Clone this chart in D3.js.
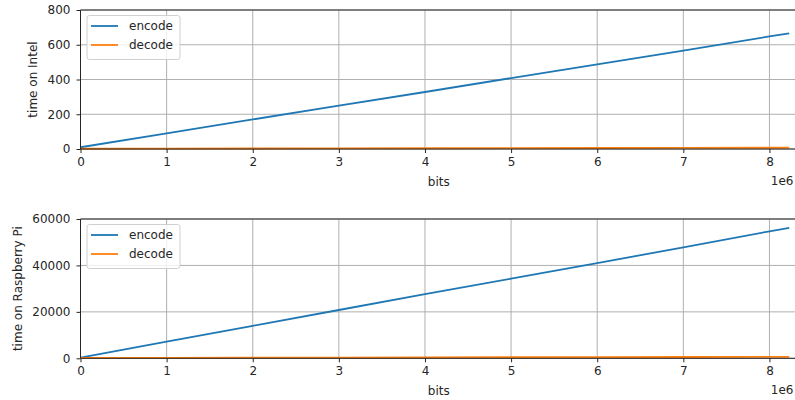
<!DOCTYPE html>
<html>
<head>
<meta charset="utf-8">
<script src="https://cdn.jsdelivr.net/npm/d3@7"></script>
<style>
  body { margin: 0; background: #fff; }
  svg { display: block; font-family: "DejaVu Sans", sans-serif; }
</style>
</head>
<body>
<div id="container"></div>
<script>
// data
var bits = [0, 1e6, 2e6, 3e6, 4e6, 5e6, 6e6, 7e6, 8e6, 8.23e6];
var intelEncode = [10, 90, 170, 250, 328, 408, 487, 566, 648, 666];
var intelDecode = [1.5, 2.2, 3, 3.6, 4.3, 5, 5.8, 6.5, 7.2, 7.4];
var piEncode = [300, 7200, 14000, 20800, 27600, 34300, 41000, 47800, 54700, 56200];
var piDecode = [150, 210, 270, 330, 390, 450, 510, 570, 630, 650];
var xTicks = [0, 1, 2, 3, 4, 5, 6, 7, 8];
var intelTicks = [0, 200, 400, 600, 800];
var piTicks = [0, 20000, 40000, 60000];

var width = 795, height = 400;
var left = 80.5, right = 797;
var ink = "#262626";

var svg = d3.select("#container").append("svg")
    .attr("width", width)
    .attr("height", height);

var xScale = d3.scaleLinear().domain([0, 8.32e6]).range([left, right]);

function panel(top, bottom, yMax, yTicks, encode, decode, ylabel, ylabelX, legendTop) {
    var yScale = d3.scaleLinear().domain([0, yMax]).range([bottom, top]);
    var g = svg.append("g");

    // grid
    g.selectAll(".vgrid").data(xTicks).enter().append("line")
        .attr("x1", d => xScale(d * 1e6)).attr("x2", d => xScale(d * 1e6))
        .attr("y1", top).attr("y2", bottom)
        .style("stroke", "#b0b0b0").style("stroke-width", 1);
    g.selectAll(".hgrid").data(yTicks).enter().append("line")
        .attr("x1", left).attr("x2", right)
        .attr("y1", d => yScale(d)).attr("y2", d => yScale(d))
        .style("stroke", "#b0b0b0").style("stroke-width", 1);

    var line = d3.line()
        .x((d, i) => xScale(bits[i]))
        .y(d => yScale(d));

    g.append("path").datum(encode)
        .attr("d", line)
        .style("fill", "none").style("stroke", "#1f77b4").style("stroke-width", 1.8);
    g.append("path").datum(decode)
        .attr("d", line)
        .style("fill", "none").style("stroke", "#ff7f0e").style("stroke-width", 1.8);

    // spines
    g.append("line").attr("x1", left).attr("x2", right).attr("y1", top).attr("y2", top)
        .style("stroke", ink).style("stroke-width", 1);
    g.append("line").attr("x1", left).attr("x2", right).attr("y1", bottom).attr("y2", bottom)
        .style("stroke", ink).style("stroke-width", 1);
    g.append("line").attr("x1", left).attr("x2", left).attr("y1", top).attr("y2", bottom)
        .style("stroke", ink).style("stroke-width", 1);

    // axes
    var xaxis = d3.axisBottom(xScale)
        .tickValues(xTicks.map(d => d * 1e6))
        .tickFormat(d => d / 1e6)
        .tickSize(4).tickPadding(4);
    var xg = g.append("g").attr("transform", "translate(0," + bottom + ")").call(xaxis);
    xg.select(".domain").remove();

    var yaxis = d3.axisLeft(yScale)
        .tickValues(yTicks)
        .tickFormat(d3.format("d"))
        .tickSize(4).tickPadding(6);
    var yg = g.append("g").attr("transform", "translate(" + left + ",0)").call(yaxis);
    yg.select(".domain").remove();

    [xg, yg].forEach(function (a) {
        a.selectAll("text").style("font-size", "12px").style("fill", ink)
            .style("font-family", "DejaVu Sans, sans-serif");
        a.selectAll("line").style("stroke", ink).style("stroke-width", 1);
    });

    g.append("text")
        .attr("x", (left + right) / 2)
        .attr("y", bottom + 37)
        .style("text-anchor", "middle").style("font-size", "12px").style("fill", ink)
        .text("bits");
    g.append("text")
        .attr("x", 793.5)
        .attr("y", bottom + 36)
        .style("text-anchor", "end").style("font-size", "12px").style("fill", ink)
        .text("1e6");
    g.append("text")
        .attr("transform", "translate(" + ylabelX + "," + ((top + bottom) / 2) + ") rotate(-90)")
        .style("text-anchor", "middle").style("font-size", "12px").style("fill", ink)
        .text(ylabel);

    // legend
    var lg = g.append("g").attr("transform", "translate(87," + legendTop + ")");
    lg.append("rect").attr("width", 93).attr("height", 44).attr("rx", 2.5)
        .style("fill", "#fff").style("fill-opacity", 0.8)
        .style("stroke", "#d0d0d0").style("stroke-width", 1);
    [["encode", "#1f77b4"], ["decode", "#ff7f0e"]].forEach(function (s, i) {
        var cy = 10.5 + i * 19;
        lg.append("line").attr("x1", 4).attr("x2", 31).attr("y1", cy).attr("y2", cy)
            .style("stroke", s[1]).style("stroke-width", 1.8);
        lg.append("text").attr("x", 42).attr("y", cy + 4.3)
            .style("font-size", "12px").style("fill", ink).text(s[0]);
    });
}

panel(10, 149, 800, intelTicks, intelEncode, intelDecode, "time on Intel", 37, 15.5);
panel(219, 358.3, 60000, piTicks, piEncode, piDecode, "time on Raspberry Pi", 22, 224.5);
</script>
</body>
</html>
